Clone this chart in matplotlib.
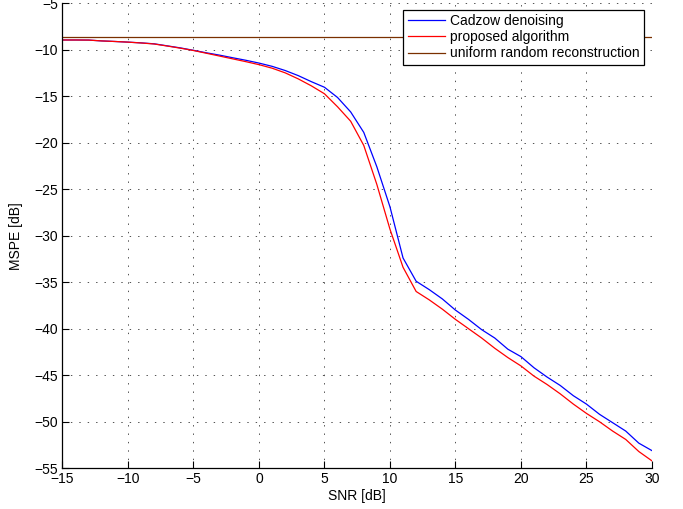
import numpy as np
import matplotlib
matplotlib.use('Agg')
import matplotlib.pyplot as plt

#region Data (MSPE in dB vs SNR in dB).
snr = np.arange(-15, 31)
cadzow = [-8.97, -8.97, -8.98, -9.07, -9.13, -9.20, -9.28, -9.38, -9.60, -9.82,
          -10.08, -10.35, -10.60, -10.88, -11.15, -11.45, -11.80, -12.25, -12.80, -13.45,
          -14.05, -15.15, -16.70, -18.90, -22.60, -26.90, -32.40, -34.90, -35.80, -36.80,
          -38.00, -39.00, -40.10, -41.00, -42.20, -43.00, -44.20, -45.20, -46.10, -47.20,
          -48.10, -49.20, -50.10, -51.00, -52.30, -53.10]
proposed = [-8.97, -8.97, -8.98, -9.07, -9.13, -9.20, -9.29, -9.40, -9.62, -9.85,
            -10.10, -10.40, -10.70, -11.00, -11.30, -11.62, -12.00, -12.50, -13.15, -13.90,
            -14.75, -16.15, -17.70, -20.30, -24.50, -29.30, -33.40, -36.00, -36.90, -37.90,
            -39.00, -40.00, -41.00, -42.10, -43.10, -44.00, -45.10, -46.00, -47.00, -48.10,
            -49.10, -50.00, -51.00, -51.90, -53.20, -54.20]
uniform_level = -8.7
labels = ['Cadzow denoising', 'proposed algorithm', 'uniform random reconstruction']
#endregion

plt.rcParams['font.family'] = ['Liberation Sans', 'DejaVu Sans']
plt.rcParams['font.size'] = 10

fig = plt.figure(figsize=(6.83, 5.09), dpi=100)
ax = fig.add_axes([0.0915, 0.08, 0.863, 0.914])

ax.plot(snr, cadzow, color='#0000ff', lw=0.9, label=labels[0])
ax.plot(snr, proposed, color='#ff0000', lw=0.9, label=labels[1])
ax.axhline(uniform_level, color='#7a3000', lw=0.9, label=labels[2])

ax.set_xlim(-15, 30)
ax.set_ylim(-55, -5)
ax.set_xticks(np.arange(-15, 31, 5))
ax.set_yticks(np.arange(-55, -4, 5))
ax.grid(True, color='#555555', linestyle=(0, (1.4, 7)), lw=0.72)
for s in ['top', 'right']:
    ax.spines[s].set_visible(False)
for s in ['left', 'bottom']:
    ax.spines[s].set_linewidth(0.9)
ax.tick_params(direction='in', length=5, width=0.8, pad=3)
ax.set_xlabel('SNR [dB]', labelpad=2)
ax.set_ylabel('MSPE [dB]', labelpad=8)

leg = ax.legend(loc='upper right', bbox_to_anchor=(0.986, 0.985), fancybox=False,
                edgecolor='k', framealpha=1, fontsize=10, borderpad=0.3,
                labelspacing=0.15, handlelength=2.7, handletextpad=0.35,
                borderaxespad=0)
leg.get_frame().set_linewidth(0.9)

fig.savefig('out.png', dpi=100)
